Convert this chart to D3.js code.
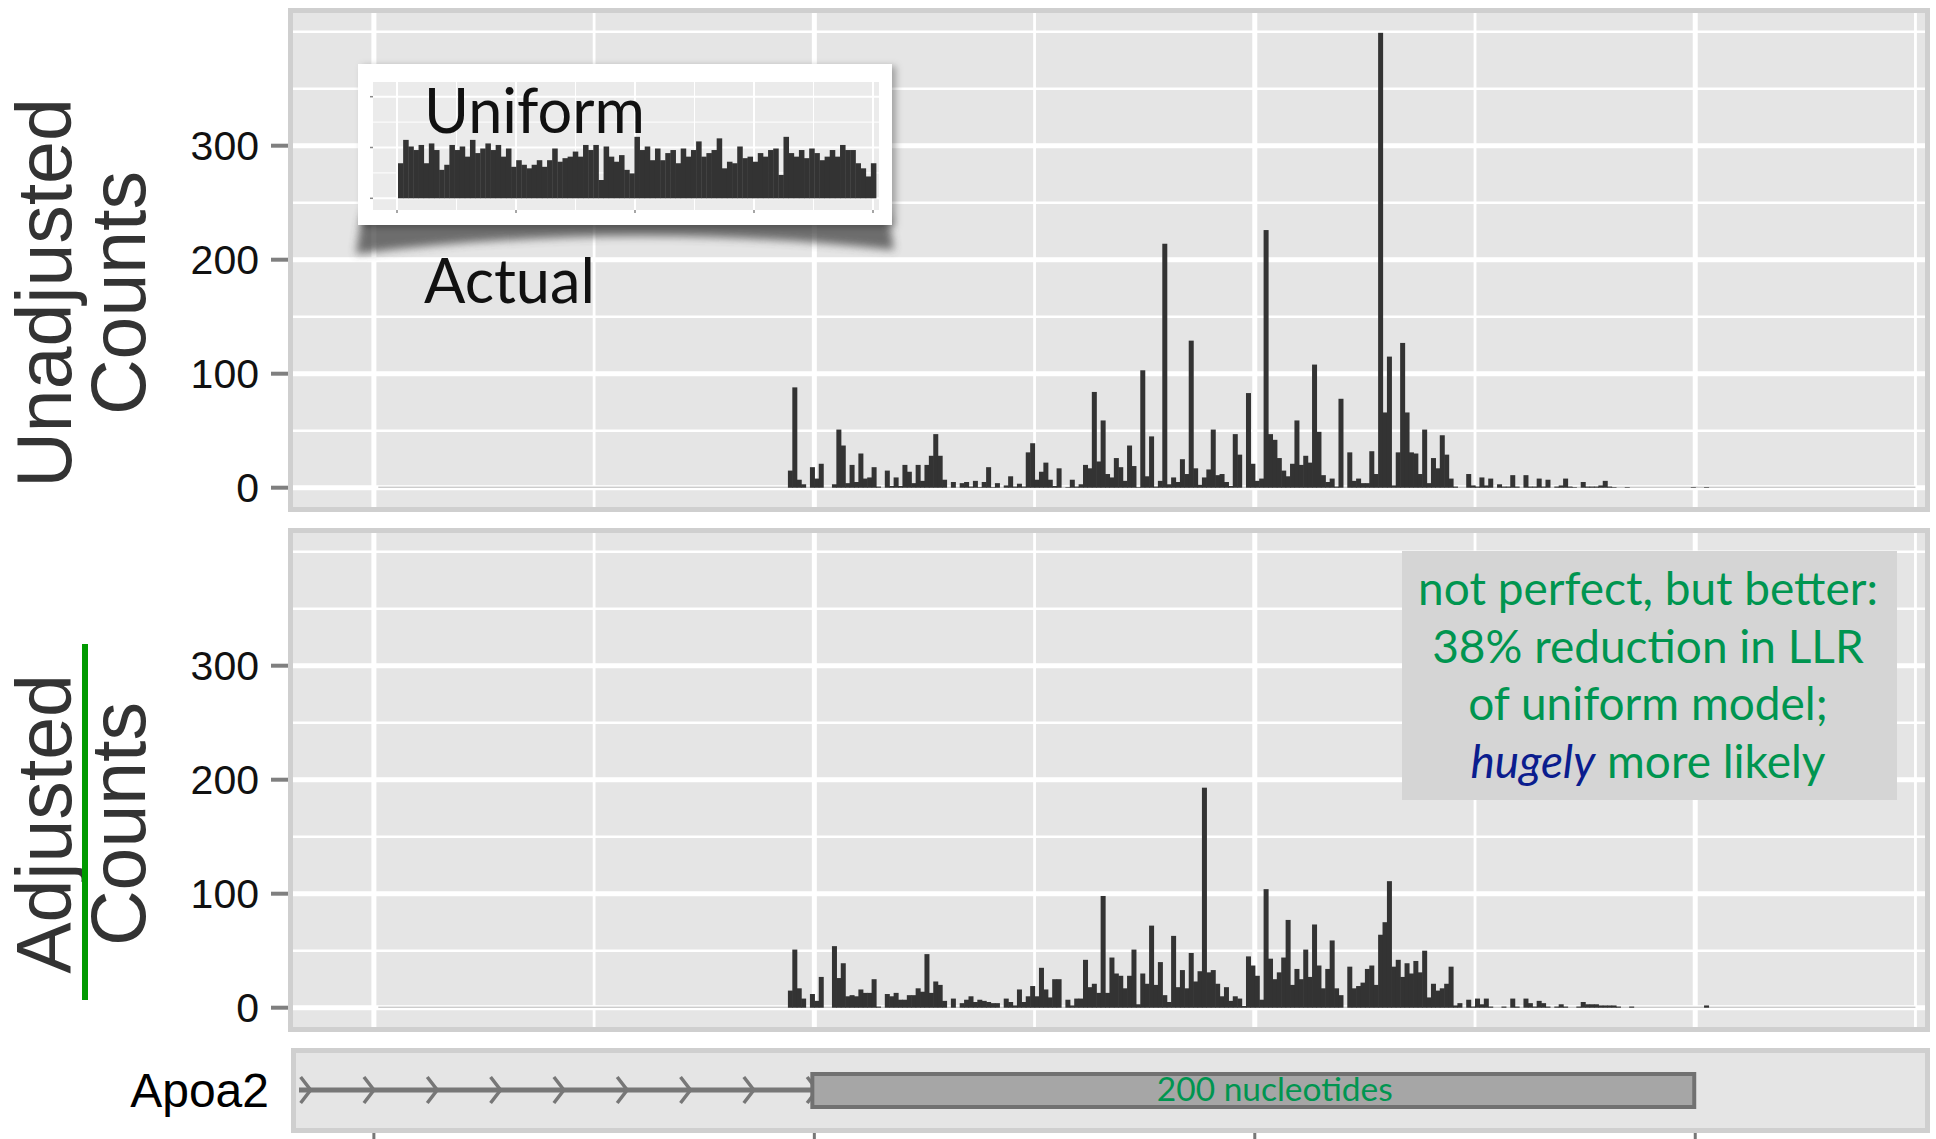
<!DOCTYPE html>
<html>
<head>
<meta charset="utf-8">
<script src="https://cdn.jsdelivr.net/npm/d3@7"></script>
<style>
  body { margin: 0; background: #ffffff; }
  svg { display: block; }
</style>
</head>
<body>
<svg id="chart" width="1936" height="1139"></svg>
<script>
// ---- read coverage per nucleotide, offsets relative to the Apoa2 exon start ----
const positions = d3.range(-6, 203);

const unadjustedCounts = [
  15, 88, 7, 3, 0, 18, 8, 21, 0, 0,
  3, 51, 37, 4, 20, 5, 30, 8, 9, 18,
  1, 0, 15, 1.5, 9, 1.5, 20, 14, 4, 20,
  6, 20, 28, 47, 28, 7, 0, 5, 0, 4,
  5, 1, 6, 0.5, 5, 18, 0.5, 4, 0, 2,
  10, 1, 3.5, 1, 31, 39, 7, 14, 22, 7,
  1.5, 17, 0, 0.5, 7, 1, 3, 20, 17, 84,
  23, 59, 12, 9, 26, 18, 6, 37, 19, 0.5,
  103, 10, 45, 1, 6, 214, 3, 9, 5, 25,
  12, 129, 17, 2.5, 9, 16, 51, 11, 12, 5,
  1.5, 47, 29, 0, 83, 21, 6, 8, 226, 47,
  42, 26, 15, 10, 21, 59, 20, 28, 22, 108,
  49, 11, 5, 8, 1, 78, 0, 31, 6, 8,
  4, 4, 32, 12, 399, 66, 115, 2, 31, 127,
  66, 31, 30, 12, 51, 4, 26, 17, 46, 29,
  8, 1, 0, 0, 12, 2, 1, 9, 2, 8,
  0, 3, 1, 1, 11, 1, 0, 11, 1, 1,
  8, 1, 7, 0, 1, 2, 8, 1, 0.5, 0,
  5, 1, 1, 1, 2, 6, 1, 0.5, 0, 0,
  0.5, 0, 0, 0, 0, 0, 0, 0, 0, 0,
  0, 0, 0, 0, 0, 0.5, 0, 0, 0.5
];

const adjustedCounts = [
  15, 51, 17, 8, 0, 12, 6, 27, 0, 0,
  54, 26, 39, 10, 11, 10, 16, 13, 13, 25,
  1, 0, 12, 10, 13, 7, 7, 11, 11, 17,
  14, 47, 13, 23, 20, 6, 0, 8, 0, 4,
  7, 10, 5, 7, 6, 5, 4, 4, 0, 8,
  5, 2, 16, 5, 10, 19, 10, 35, 16, 9,
  25, 25, 0, 7, 2, 8, 8, 42, 18, 21,
  13, 98, 13, 44, 30, 28, 17, 28, 51, 3,
  30, 21, 72, 20, 40, 11, 5, 63, 18, 33,
  17, 48, 23, 32, 193, 31, 33, 21, 10, 18,
  6, 10, 8, 1.5, 45, 37, 28, 7, 104, 43,
  25, 31, 44, 77, 20, 34, 25, 51, 27, 73,
  37, 17, 34, 59, 17, 11, 0, 36, 17, 19,
  22, 34, 37, 20, 64, 75, 111, 36, 42, 27,
  39, 30, 41, 31, 50, 9, 21, 15, 17, 21,
  36, 2, 4, 0, 7, 1, 8, 3, 8, 1,
  0, 0, 1, 0, 8, 1, 0, 8, 4, 1,
  6, 4, 1, 0, 1, 3, 1, 0, 0, 1,
  5, 3, 3, 3, 2, 2, 2, 2, 1, 0,
  0, 1, 0, 0, 0, 0, 0, 0, 0, 0,
  0, 0, 0, 0, 0, 0, 0, 0, 2
];

// expected coverage under a uniform fragment model (small inset)
const uniformCounts = [
  69, 115, 102, 95, 105, 69, 108, 95, 56, 66, 105, 95, 102, 82, 115, 89,
  98, 108, 95, 105, 82, 98, 62, 75, 66, 59, 66, 75, 62, 75, 98, 72,
  79, 82, 92, 82, 105, 95, 105, 36, 102, 82, 72, 85, 56, 49, 121, 95,
  102, 75, 98, 75, 89, 95, 69, 98, 82, 95, 112, 82, 89, 95, 118, 59,
  72, 69, 102, 79, 82, 72, 89, 82, 95, 98, 46, 121, 89, 82, 95, 79,
  98, 89, 75, 82, 95, 82, 105, 95, 95, 69, 59, 43, 69
];

const yTickValues = [0, 100, 200, 300];
const yGridValues = [0, 50, 100, 150, 200, 250, 300, 350, 400];
const xGridValues = [-100, -50, 0, 50, 100, 150, 200, 250];
const geneTickValues = [-100, 0, 100, 200];
const geneName = "Apoa2";
const exonStart = 0, exonEnd = 200, intronStart = -117;
const exonLabel = "200 nucleotides";
const noteLines = ["not perfect, but better:", "38% reduction in LLR", "of uniform model;"];

// ---- layout ----
const svg = d3.select("#chart");
const defs = svg.append("defs");

const PANEL_BG = "#e5e5e5", PANEL_BORDER = "#cfcfcf", BAR = "#333333";
const GREEN = "#009550", BLUE = "#0b1d8e";
const SANS = "'Liberation Sans', Arial, Helvetica, sans-serif";
const HUMANIST = "Lato, 'Open Sans', sans-serif";

const x = d3.scaleLinear().domain([-119.5, 253.3]).range([288, 1930]);

function fitWidth(sel, target) {
  const w = sel.node().getComputedTextLength();
  const fs = parseFloat(sel.attr("font-size"));
  sel.attr("font-size", fs * target / w);
  return fs * target / w;
}

const panels = [
  { top: 8, counts: unadjustedCounts, zero: 487.7, title: ["Unadjusted", "Counts"], titleY: 293 },
  { top: 528, counts: adjustedCounts, zero: 1007.7, title: ["Adjusted", "Counts"], titleY: 824 }
];

panels.forEach((p, pi) => {
  const y = d3.scaleLinear().domain([0, 400]).range([p.zero, p.zero - 456]);
  const g = svg.append("g");
  const left = 288, right = 1930, top = p.top, bottom = p.top + 504;

  g.append("rect").attr("x", left).attr("y", top).attr("width", right - left).attr("height", bottom - top)
    .attr("fill", PANEL_BG);

  const clipId = "clip" + pi;
  defs.append("clipPath").attr("id", clipId).append("rect")
    .attr("x", left + 4).attr("y", top + 4).attr("width", right - left - 8).attr("height", bottom - top - 8);
  const grid = g.append("g").attr("clip-path", `url(#${clipId})`);

  grid.selectAll("line.h").data(yGridValues).join("line")
    .attr("x1", left).attr("x2", right)
    .attr("y1", d => y(d)).attr("y2", d => y(d))
    .attr("stroke", "#ffffff")
    .attr("stroke-width", d => yTickValues.includes(d) ? 5 : 2.6);

  grid.selectAll("line.v").data(xGridValues).join("line")
    .attr("x1", d => x(d)).attr("x2", d => x(d))
    .attr("y1", top).attr("y2", bottom)
    .attr("stroke", "#ffffff")
    .attr("stroke-width", d => d % 100 === 0 ? 5 : 2.8);

  g.append("rect").attr("x", left + 2.5).attr("y", top + 2.5)
    .attr("width", right - left - 5).attr("height", bottom - top - 5)
    .attr("fill", "none").attr("stroke", PANEL_BORDER).attr("stroke-width", 5);

  // zero line under the bars
  g.append("line").attr("x1", x(-99)).attr("x2", x(250))
    .attr("y1", y(0) - 0.5).attr("y2", y(0) - 0.5)
    .attr("stroke", "#b5b5b5").attr("stroke-width", 1);

  g.append("g").selectAll("rect").data(p.counts).join("rect")
    .attr("x", (d, i) => x(positions[i]))
    .attr("width", (d, i) => x(positions[i] + 1) - x(positions[i]) + 0.6)
    .attr("y", d => y(d))
    .attr("height", d => y(0) - y(d))
    .attr("fill", BAR);

  // y axis
  const ax = g.append("g");
  ax.selectAll("line").data(yTickValues).join("line")
    .attr("x1", 271).attr("x2", 288)
    .attr("y1", d => y(d)).attr("y2", d => y(d))
    .attr("stroke", "#7f7f7f").attr("stroke-width", 4);
  ax.selectAll("text").data(yTickValues).join("text")
    .attr("x", 259).attr("y", d => y(d)).attr("dy", "0.36em")
    .attr("text-anchor", "end")
    .attr("font-family", SANS).attr("font-size", 41).attr("fill", "#111")
    .text(d => d);

  // axis title, two stacked lines
  const t = g.append("g").attr("font-family", SANS).attr("font-size", 77).attr("fill", "#333");
  t.append("text").attr("transform", `translate(71,${p.titleY}) rotate(-90)`)
    .attr("text-anchor", "middle").text(p.title[0]);
  t.append("text").attr("transform", `translate(145,${p.titleY}) rotate(-90)`)
    .attr("text-anchor", "middle").text(p.title[1]);
});

// fraction bar between "Adjusted" and "Counts"
svg.append("line").attr("x1", 85).attr("x2", 85).attr("y1", 644).attr("y2", 1000)
  .attr("stroke", "#009a00").attr("stroke-width", 6);

// ---- inset card: uniform model coverage ----
const blur = defs.append("filter").attr("id", "softShadow")
  .attr("x", "-20%").attr("y", "-50%").attr("width", "140%").attr("height", "200%");
blur.append("feGaussianBlur").attr("stdDeviation", 4);
const cardShadow = defs.append("filter").attr("id", "cardShadow")
  .attr("x", "-10%").attr("y", "-10%").attr("width", "125%").attr("height", "130%");
cardShadow.append("feDropShadow").attr("dx", 4).attr("dy", 2).attr("stdDeviation", 3.5)
  .attr("flood-color", "#000").attr("flood-opacity", 0.3);

const inset = svg.append("g");
inset.append("path")
  .attr("d", "M362,214 L356,254 Q625,220 894,250 L888,214 Z")
  .attr("fill", "#444").attr("opacity", 0.75).attr("filter", "url(#softShadow)");
inset.append("rect").attr("x", 358).attr("y", 64).attr("width", 534).attr("height", 161)
  .attr("fill", "#ffffff").attr("filter", "url(#cardShadow)");
inset.append("rect").attr("x", 373).attr("y", 82).attr("width", 506).attr("height", 128)
  .attr("fill", "#ebebeb");

const insetGridX = d3.scaleLinear().domain([0, 400]).range([397, 873]);
const insetY = d3.scaleLinear().domain([0, 200]).range([198.3, 96.7]);
inset.selectAll("line.ih").data(d3.range(0, 201, 50)).join("line")
  .attr("x1", 373).attr("x2", 879)
  .attr("y1", d => insetY(d)).attr("y2", d => insetY(d))
  .attr("stroke", "#ffffff").attr("stroke-width", d => d % 100 === 0 ? 2 : 1);
inset.selectAll("line.iv").data(d3.range(0, 401, 50)).join("line")
  .attr("x1", d => insetGridX(d)).attr("x2", d => insetGridX(d))
  .attr("y1", 82).attr("y2", 210)
  .attr("stroke", "#ffffff").attr("stroke-width", d => d % 100 === 0 ? 2 : 1);
inset.selectAll("line.ixt").data(d3.range(0, 401, 100)).join("line")
  .attr("x1", d => insetGridX(d)).attr("x2", d => insetGridX(d))
  .attr("y1", 210).attr("y2", 213).attr("stroke", "#888").attr("stroke-width", 1.5);
inset.selectAll("line.iyt").data([0, 100, 200]).join("line")
  .attr("x1", 370).attr("x2", 373)
  .attr("y1", d => insetY(d)).attr("y2", d => insetY(d)).attr("stroke", "#888").attr("stroke-width", 1.5);

const insetX = d3.scaleBand().domain(d3.range(uniformCounts.length)).range([398, 876]).padding(0);
inset.append("g").selectAll("rect").data(uniformCounts).join("rect")
  .attr("x", (d, i) => insetX(i)).attr("width", insetX.bandwidth() + 0.4)
  .attr("y", d => insetY(d)).attr("height", d => insetY(0) - insetY(d))
  .attr("fill", BAR);

const uni = svg.append("text").attr("x", 424).attr("y", 133)
  .attr("font-family", HUMANIST).attr("font-size", 60).attr("fill", "#111").text("Uniform");
const labelSize = fitWidth(uni, 221);
svg.append("text").attr("x", 424).attr("y", 303)
  .attr("font-family", HUMANIST).attr("font-size", labelSize).attr("fill", "#111").text("Actual");

// ---- annotation box in the adjusted panel ----
svg.append("rect").attr("x", 1402).attr("y", 551).attr("width", 495).attr("height", 249)
  .attr("fill", "#d5d5d5");
const noteBaselines = [605, 662.5, 720, 777.5];
const first = svg.append("text").attr("x", 1648).attr("y", noteBaselines[0])
  .attr("text-anchor", "middle").attr("font-family", HUMANIST).attr("font-size", 44)
  .attr("fill", GREEN).text(noteLines[0]);
const noteSize = fitWidth(first, 460);
noteLines.slice(1).forEach((line, i) => {
  svg.append("text").attr("x", 1648).attr("y", noteBaselines[i + 1])
    .attr("text-anchor", "middle").attr("font-family", HUMANIST).attr("font-size", noteSize)
    .attr("fill", GREEN).text(line);
});
const last = svg.append("text").attr("x", 1648).attr("y", noteBaselines[3])
  .attr("text-anchor", "middle").attr("font-family", HUMANIST).attr("font-size", noteSize);
last.append("tspan").attr("font-style", "italic").attr("fill", BLUE).text("hugely");
last.append("tspan").attr("fill", GREEN).text(" more likely");

// ---- gene model track ----
const gene = svg.append("g");
gene.append("rect").attr("x", 291).attr("y", 1048).attr("width", 1639).attr("height", 85)
  .attr("fill", PANEL_BG);
gene.append("rect").attr("x", 293.5).attr("y", 1050.5).attr("width", 1634).attr("height", 80)
  .attr("fill", "none").attr("stroke", PANEL_BORDER).attr("stroke-width", 5);

const geneY = 1090;
gene.append("line").attr("x1", x(intronStart)).attr("x2", x(exonStart))
  .attr("y1", geneY).attr("y2", geneY).attr("stroke", "#777").attr("stroke-width", 5);
const chevrons = d3.range(9).map(i => intronStart + 1.5 + i * (exonStart - intronStart - 2) / 8);
gene.selectAll("polyline").data(chevrons).join("polyline")
  .attr("points", d => `${x(d) - 5},${geneY - 13} ${x(d) + 5},${geneY} ${x(d) - 5},${geneY + 13}`)
  .attr("fill", "none").attr("stroke", "#777").attr("stroke-width", 3.5);
gene.append("rect").attr("x", x(exonStart) - 2).attr("y", 1074)
  .attr("width", x(exonEnd) - x(exonStart) + 1).attr("height", 33)
  .attr("fill", "#a6a6a6").attr("stroke", "#717171").attr("stroke-width", 4);
const exonText = gene.append("text").attr("x", (x(exonStart) + x(exonEnd)) / 2 + 20).attr("y", 1101)
  .attr("text-anchor", "middle").attr("font-family", HUMANIST).attr("font-size", 30)
  .attr("fill", GREEN).text(exonLabel);
fitWidth(exonText, 236);
gene.append("text").attr("x", 269).attr("y", geneY).attr("dy", "0.36em")
  .attr("text-anchor", "end").attr("font-family", SANS).attr("font-size", 48)
  .attr("fill", "#000").text(geneName);
gene.selectAll("line.gt").data(geneTickValues).join("line")
  .attr("x1", d => x(d)).attr("x2", d => x(d))
  .attr("y1", 1133).attr("y2", 1139).attr("stroke", "#777").attr("stroke-width", 3);
</script>
</body>
</html>
